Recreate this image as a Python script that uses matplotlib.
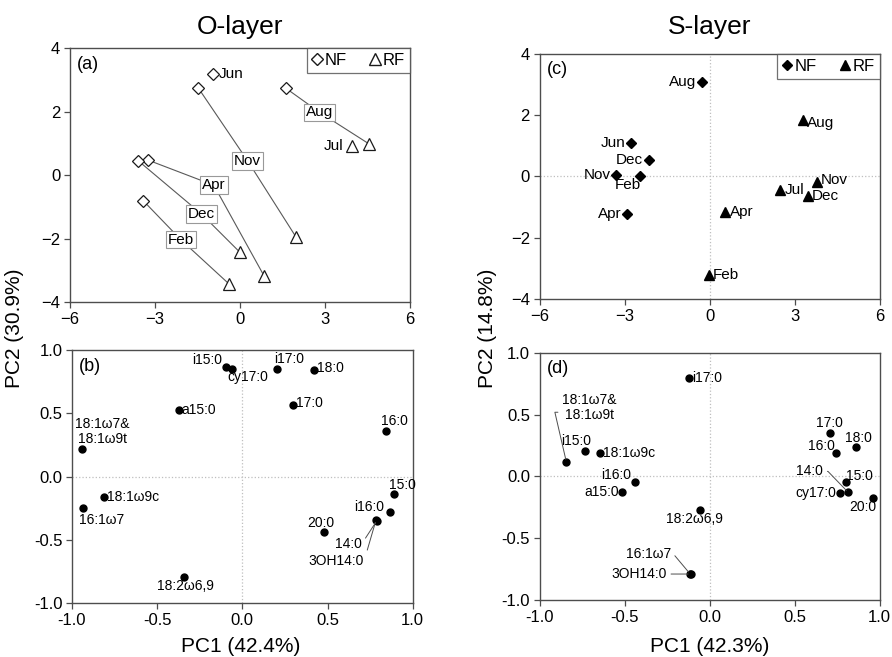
import numpy as np
import matplotlib
matplotlib.use("Agg")
import matplotlib.pyplot as plt
from matplotlib.lines import Line2D

plt.rcParams['font.family'] = ['Liberation Sans', 'DejaVu Sans']

# ---- (a) O-layer scores ----
nf_a_months = ["Jun", "Aug", "Nov", "Apr", "Dec", "Feb"]
nf_a_pc1 = [-0.96, 1.61, -1.47, -3.24, -3.59, -3.41]
nf_a_pc2 = [3.19, 2.74, 2.74, 0.47, 0.45, -0.81]
rf_a_months = ["Jul", "Aug", "Nov", "Apr", "Dec", "Feb"]
rf_a_pc1 = [3.96, 4.56, 1.98, 0.85, 0.00, -0.38]
rf_a_pc2 = [0.92, 0.98, -1.95, -3.17, -2.43, -3.43]
# boxed month labels sitting on the NF->RF connectors
box_months = ["Aug", "Nov", "Apr", "Dec", "Feb"]
box_pc1 = [2.82, 0.27, -0.92, -1.35, -2.09]
box_pc2 = [1.97, 0.45, -0.32, -1.23, -2.03]

# ---- (c) S-layer scores ----
nf_c_months = ["Aug", "Jun", "Dec", "Nov", "Feb", "Apr"]
nf_c_pc1 = [-0.27, -2.76, -2.15, -3.29, -2.45, -2.92]
nf_c_pc2 = [3.08, 1.10, 0.54, 0.05, 0.00, -1.24]
rf_c_months = ["Aug", "Nov", "Jul", "Dec", "Apr", "Feb"]
rf_c_pc1 = [3.29, 3.79, 2.49, 3.47, 0.56, -0.02]
rf_c_pc2 = [1.84, -0.19, -0.45, -0.65, -1.17, -3.22]

# ---- (b) O-layer loadings ----
fa_b = ["i15:0", "cy17:0", "i17:0", "18:0", "a15:0", "17:0", "16:0",
        "18:1ω7&\n18:1ω9t", "18:1ω9c", "16:1ω7", "15:0", "i16:0",
        "14:0", "3OH14:0", "20:0", "18:2ω6,9"]
fa_b_pc1 = [-0.098, -0.063, 0.206, 0.42, -0.373, 0.30, 0.843,
            -0.94, -0.81, -0.935, 0.89, 0.867, 0.79, 0.785, 0.48, -0.343]
fa_b_pc2 = [0.868, 0.855, 0.85, 0.84, 0.53, 0.566, 0.36,
            0.216, -0.158, -0.25, -0.14, -0.276, -0.347, -0.342, -0.44, -0.797]

# ---- (d) S-layer loadings ----
fa_d = ["i17:0", "18:1ω7&\n18:1ω9t", "i15:0", "18:1ω9c", "i16:0", "a15:0",
        "18:2ω6,9", "16:1ω7", "3OH14:0", "17:0", "18:0", "16:0", "15:0",
        "14:0", "cy17:0", "20:0"]
fa_d_pc1 = [-0.122, -0.843, -0.733, -0.647, -0.44, -0.518, -0.055, -0.114,
            -0.11, 0.706, 0.863, 0.745, 0.804, 0.816, 0.769, 0.96]
fa_d_pc2 = [0.798, 0.118, 0.207, 0.188, -0.048, -0.124, -0.274, -0.79,
            -0.79, 0.355, 0.239, 0.188, -0.043, -0.129, -0.134, -0.172]

PX = 0.72  # pixel -> point at dpi 100
EDGE = '0.3'


def style(ax):
    for s in ax.spines.values():
        s.set_color(EDGE)
        s.set_linewidth(1.0)
    ax.tick_params(direction='out', length=4, width=0.9, color=EDGE,
                   labelsize=12, pad=3)


fig = plt.figure(figsize=(8.92, 6.57), dpi=100)
ax_a = fig.add_axes([0.0785, 0.540, 0.381, 0.387])
ax_c = fig.add_axes([0.605, 0.545, 0.381, 0.373])
ax_b = fig.add_axes([0.0807, 0.082, 0.382, 0.385])
ax_d = fig.add_axes([0.605, 0.0868, 0.381, 0.376])

# ---------- (a) ----------
for m, bx, by in zip(box_months, box_pc1, box_pc2):
    i = nf_a_months.index(m)
    j = rf_a_months.index(m)
    ax_a.plot([nf_a_pc1[i], bx, rf_a_pc1[j]], [nf_a_pc2[i], by, rf_a_pc2[j]],
              color='0.35', lw=0.8, zorder=1)
    ax_a.text(bx, by, m, ha='center', va='center', fontsize=11, zorder=3,
              bbox=dict(boxstyle='square,pad=0.12', fc='white', ec='0.6', lw=0.8))
ax_a.plot(nf_a_pc1, nf_a_pc2, ls='none', marker='D', ms=6.5, mfc='white',
          mec='0.1', mew=0.9, zorder=4)
ax_a.plot(rf_a_pc1, rf_a_pc2, ls='none', marker='^', ms=9, mfc='white',
          mec='0.1', mew=0.9, zorder=4)
ax_a.annotate("Jun", (nf_a_pc1[0], nf_a_pc2[0]), xytext=(4, 0),
              textcoords='offset points', ha='left', va='center', fontsize=11)
ax_a.annotate("Jul", (rf_a_pc1[0], rf_a_pc2[0]), xytext=(-6, 0),
              textcoords='offset points', ha='right', va='center', fontsize=11)
ax_a.set_xlim(-6, 6)
ax_a.set_ylim(-4, 4)
ax_a.set_xticks([-6, -3, 0, 3, 6])
ax_a.set_yticks([-4, -2, 0, 2, 4])
ax_a.text(0.02, 0.97, "(a)", transform=ax_a.transAxes, ha='left', va='top', fontsize=13)
hd = [Line2D([], [], ls='none', marker='D', ms=6, mfc='white', mec='0.1'),
      Line2D([], [], ls='none', marker='^', ms=8, mfc='white', mec='0.1')]
leg = ax_a.legend(hd, ["NF", "RF"], ncol=2, loc='upper right', borderaxespad=0,
                  fancybox=False, edgecolor=EDGE, fontsize=12, handlelength=0.6,
                  handletextpad=0.15, columnspacing=1.4, borderpad=0.3)
leg.get_frame().set_linewidth(0.9)
style(ax_a)
ax_a.set_title("O-layer", fontsize=19, pad=10)

# ---------- (c) ----------
ax_c.axhline(0, color='0.75', ls=':', lw=0.9, zorder=0)
ax_c.axvline(0, color='0.75', ls=':', lw=0.9, zorder=0)
ax_c.plot(nf_c_pc1, nf_c_pc2, ls='none', marker='D', ms=5.5, color='black', zorder=3)
ax_c.plot(rf_c_pc1, rf_c_pc2, ls='none', marker='^', ms=7.5, color='black', zorder=3)
for m, x, y in zip(nf_c_months, nf_c_pc1, nf_c_pc2):
    if m == "Feb":
        ax_c.annotate(m, (x, y), xytext=(-12 * PX, -9 * PX), textcoords='offset points',
                      ha='center', va='center', fontsize=11)
    else:
        ax_c.annotate(m, (x, y), xytext=(-4, 0), textcoords='offset points',
                      ha='right', va='center', fontsize=11)
for m, x, y in zip(rf_c_months, rf_c_pc1, rf_c_pc2):
    dy = {"Nov": 1.5, "Aug": -2}.get(m, 0)
    ax_c.annotate(m, (x, y), xytext=(3, dy), textcoords='offset points',
                  ha='left', va='center', fontsize=11)
ax_c.set_xlim(-6, 6)
ax_c.set_ylim(-4, 4)
ax_c.set_xticks([-6, -3, 0, 3, 6])
ax_c.set_yticks([-4, -2, 0, 2, 4])
ax_c.text(0.02, 0.97, "(c)", transform=ax_c.transAxes, ha='left', va='top', fontsize=13)
hd = [Line2D([], [], ls='none', marker='D', ms=5, color='black'),
      Line2D([], [], ls='none', marker='^', ms=7, color='black')]
leg = ax_c.legend(hd, ["NF", "RF"], ncol=2, loc='upper right', borderaxespad=0,
                  fancybox=False, edgecolor=EDGE, fontsize=12, handlelength=0.6,
                  handletextpad=0.15, columnspacing=1.4, borderpad=0.3)
leg.get_frame().set_linewidth(0.9)
style(ax_c)
ax_c.set_title("S-layer", fontsize=19, pad=14)


# ---------- loadings helper ----------
def loadings(ax, names, xs, ys, offs, leaders):
    ax.axhline(0, color='0.75', ls=':', lw=0.9, zorder=0)
    ax.axvline(0, color='0.75', ls=':', lw=0.9, zorder=0)
    ax.plot(xs, ys, ls='none', marker='o', ms=5, color='black', zorder=3)
    for n, x, y in zip(names, xs, ys):
        dx, dy, ha = offs[n]
        kw = {}
        if n in leaders:
            rel, cs = leaders[n]
            kw['arrowprops'] = dict(arrowstyle='-', color='0.3', lw=0.7,
                                    shrinkA=1, shrinkB=2, relpos=rel,
                                    connectionstyle=cs)
        ax.annotate(n, (x, y), xytext=(dx * PX, dy * PX), textcoords='offset points',
                    ha=ha, va='center', fontsize=10, multialignment='center',
                    linespacing=1.1, **kw)
    ax.set_xlim(-1, 1)
    ax.set_ylim(-1, 1)
    ax.set_xticks([-1, -0.5, 0, 0.5, 1])
    ax.set_yticks([-1, -0.5, 0, 0.5, 1])
    ax.xaxis.set_major_formatter(matplotlib.ticker.FormatStrFormatter('%.1f'))
    ax.yaxis.set_major_formatter(matplotlib.ticker.FormatStrFormatter('%.1f'))
    style(ax)


offs_b = {
    "i15:0": (-4, 7, 'right'), "cy17:0": (16, -8, 'center'),
    "i17:0": (12, 10, 'center'), "18:0": (3, 2, 'left'),
    "a15:0": (3, 0, 'left'), "17:0": (3, 2, 'left'), "16:0": (8, 10, 'center'),
    "18:1ω7&\n18:1ω9t": (20, 18, 'center'), "18:1ω9c": (3, 0, 'left'),
    "16:1ω7": (19, -12, 'center'), "15:0": (8, 9, 'center'),
    "i16:0": (-21, 5, 'center'), "14:0": (-15, -23, 'right'),
    "3OH14:0": (-12, -41, 'right'), "20:0": (-3, 9, 'center'),
    "18:2ω6,9": (2, -9, 'center'),
}
leaders_b = {"14:0": ((1, 0.5), "arc3"), "3OH14:0": ((1, 0.5), "arc3")}
loadings(ax_b, fa_b, fa_b_pc1, fa_b_pc2, offs_b, leaders_b)
ax_b.text(0.02, 0.97, "(b)", transform=ax_b.transAxes, ha='left', va='top', fontsize=13)

offs_d = {
    "i17:0": (3, 0, 'left'), "18:1ω7&\n18:1ω9t": (23, 54, 'center'),
    "i15:0": (-9, 10, 'center'), "18:1ω9c": (3, 0, 'left'),
    "i16:0": (-19, 7, 'center'), "a15:0": (-3, 0, 'right'),
    "18:2ω6,9": (-6, -9, 'center'), "16:1ω7": (-19, 20, 'right'),
    "3OH14:0": (-24, 0, 'right'), "17:0": (0, 10, 'center'),
    "18:0": (2, 9, 'center'), "16:0": (-15, 7, 'center'),
    "15:0": (13, 6, 'center'), "14:0": (-25, 21, 'right'),
    "cy17:0": (-4, 0, 'right'), "20:0": (-10, -9, 'center'),
}
leaders_d = {
    "18:1ω7&\n18:1ω9t": ((0, 0.35), "angle,angleA=0,angleB=103,rad=0"),
    "16:1ω7": ((1, 0.5), "angle,angleA=0,angleB=130,rad=0"),
    "3OH14:0": ((1, 0.5), "arc3"),
    "14:0": ((1, 0.5), "angle,angleA=0,angleB=134,rad=0"),
}
loadings(ax_d, fa_d, fa_d_pc1, fa_d_pc2, offs_d, leaders_d)
ax_d.text(0.02, 0.97, "(d)", transform=ax_d.transAxes, ha='left', va='top', fontsize=13)

# shared axis labels
fig.text(0.016, 0.50, "PC2 (30.9%)", rotation=90, ha='center', va='center', fontsize=15)
fig.text(0.546, 0.50, "PC2 (14.8%)", rotation=90, ha='center', va='center', fontsize=15)
fig.text(0.27, 0.016, "PC1 (42.4%)", ha='center', va='center', fontsize=15)
fig.text(0.796, 0.016, "PC1 (42.3%)", ha='center', va='center', fontsize=15)

fig.savefig("out.png", dpi=100)
